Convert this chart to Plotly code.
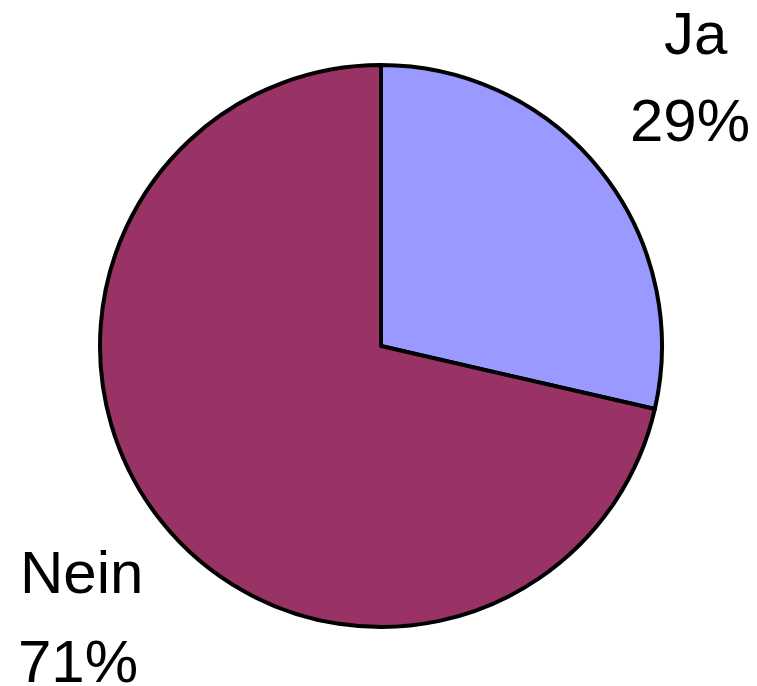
import plotly.graph_objects as go

labels = ["Ja", "Nein"]
values = [28.6, 71.4]
colors = ["#9999FF", "#993366"]

# The page body has an 8px margin, so the figure is drawn 8px smaller.
W, H = 749, 678

fig = go.Figure(go.Pie(
    labels=labels,
    values=values,
    sort=False,
    direction="clockwise",
    rotation=0,
    marker=dict(colors=colors, line=dict(color="black", width=4)),
    textinfo="none",
    hoverinfo="label+percent",
    showlegend=False,
    domain=dict(x=[92 / W, 654 / W], y=[1 - 619 / H, 1 - 57 / H]),
))

total = sum(values)
FS = 60
# (x centre, y centre) in pixels for the two lines of each label
pos = {
    "Ja": [(688, 26), (682, 113)],
    "Nein": [(73, 564), (70, 653)],
}
for lab, val in zip(labels, values):
    lines = [lab, f"{round(val / total * 100)}%"]
    for txt, (px, py) in zip(lines, pos[lab]):
        fig.add_annotation(
            x=px / W, y=1 - py / H, xref="paper", yref="paper",
            text=txt, showarrow=False,
            xanchor="center", yanchor="middle", align="center",
            font=dict(family="Liberation Sans", size=FS, color="black"),
        )

fig.update_layout(
    width=W, height=H,
    margin=dict(l=0, r=0, t=0, b=0),
    paper_bgcolor="white", plot_bgcolor="white",
)

fig.write_html("out.html")
